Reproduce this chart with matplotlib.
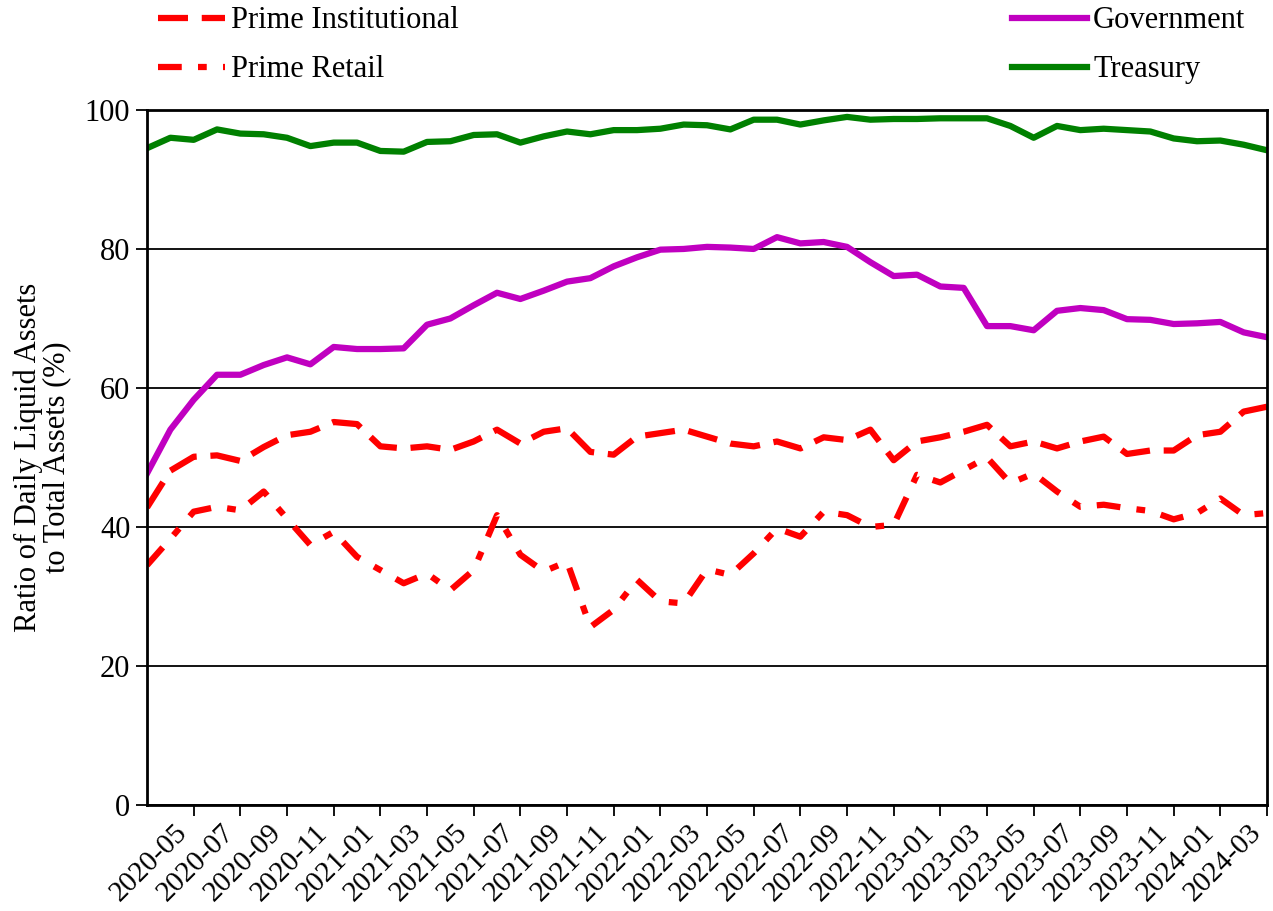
import matplotlib
matplotlib.use("Agg")
import matplotlib.pyplot as plt
import matplotlib.transforms as mtransforms
import numpy as np
import pandas as pd

plt.rcParams['font.family'] = ['Liberation Serif', 'DejaVu Serif']

months = pd.period_range('2020-03', '2024-03', freq='M').strftime('%Y-%m').tolist()

treasury = [94.5, 96.0, 95.7, 97.2, 96.6, 96.5, 96.0, 94.8, 95.3, 95.3,
            94.1, 94.0, 95.4, 95.5, 96.4, 96.5, 95.3, 96.2, 96.9, 96.5,
            97.1, 97.1, 97.3, 97.9, 97.8, 97.2, 98.6, 98.6, 97.9, 98.5,
            99.0, 98.6, 98.7, 98.7, 98.8, 98.8, 98.8, 97.7, 96.0, 97.7,
            97.1, 97.3, 97.1, 96.9, 95.9, 95.5, 95.6, 95.0, 94.2]

government = [47.7, 54.0, 58.3, 61.9, 61.9, 63.3, 64.4, 63.4, 65.9, 65.6,
              65.6, 65.7, 69.1, 70.0, 71.9, 73.7, 72.8, 74.0, 75.3, 75.8,
              77.5, 78.8, 79.9, 80.0, 80.3, 80.2, 80.0, 81.7, 80.8, 81.0,
              80.3, 78.1, 76.1, 76.3, 74.6, 74.4, 68.9, 68.9, 68.3, 71.1,
              71.5, 71.2, 69.9, 69.8, 69.2, 69.3, 69.5, 68.0, 67.3]

prime_inst = [42.8, 48.1, 50.1, 50.3, 49.5, 51.5, 53.2, 53.7, 55.1, 54.8,
              51.6, 51.3, 51.6, 51.1, 52.3, 54.0, 52.0, 53.7, 54.2, 50.8,
              50.4, 53.0, 53.5, 54.0, 53.0, 52.0, 51.6, 52.3, 51.3, 52.9,
              52.5, 54.0, 49.6, 52.3, 52.9, 53.7, 54.7, 51.6, 52.3, 51.3,
              52.3, 53.0, 50.5, 51.0, 51.0, 53.2, 53.7, 56.6, 57.3]

prime_retail = [34.5, 38.3, 42.2, 42.9, 42.4, 45.1, 41.2, 37.4, 39.3, 35.7,
                33.8, 31.9, 33.3, 30.9, 33.8, 41.7, 36.0, 33.6, 35.0, 25.6,
                28.1, 32.4, 29.3, 29.0, 33.9, 33.1, 36.2, 39.8, 38.6, 42.2,
                41.7, 40.0, 40.3, 47.5, 46.4, 48.2, 50.0, 46.3, 47.7, 45.1,
                42.9, 43.2, 42.7, 42.3, 41.1, 42.0, 44.1, 41.7, 42.0]

x = np.arange(len(months))

fig = plt.figure(figsize=(12.73, 9.11), dpi=100)
ax = fig.add_axes([0.1155, 0.1164, 0.8798, 0.7629])

lw = 4.5
l_inst, = ax.plot(x, prime_inst, color='#FF0000', lw=lw, dashes=(4.8, 2.2),
                  dash_capstyle='butt', label='Prime Institutional')
l_ret, = ax.plot(x, prime_retail, color='#FF0000', lw=lw, dashes=(3.8, 2.6, 1.4, 2.6),
                 dash_capstyle='butt', label='Prime Retail')
l_gov, = ax.plot(x, government, color='#C000C0', lw=lw, label='Government')
l_tre, = ax.plot(x, treasury, color='#008000', lw=lw, label='Treasury')

ax.set_xlim(0, len(months) - 1)
ax.set_ylim(0, 100)
ax.set_yticks([0, 20, 40, 60, 80, 100])
ax.yaxis.grid(True, color='black', lw=1.3)
ax.set_axisbelow(True)

tick_idx = x[2::2]
ax.set_xticks(tick_idx)
ax.set_xticklabels([months[i] for i in tick_idx], rotation=45, ha='right', va='center',
                   rotation_mode='anchor', fontsize=21)
ax.tick_params(axis='y', labelsize=22, length=8, width=1.3, direction='out', pad=4)
ax.tick_params(axis='x', length=8, width=1.3, direction='out', pad=2)
for s in ax.spines.values():
    s.set_linewidth(2)

# nudge rotated labels so they end just left of and below their ticks
shift = mtransforms.ScaledTranslation(-0.10, -0.10, fig.dpi_scale_trans)
for lab in ax.get_xticklabels():
    lab.set_transform(lab.get_transform() + shift)

ax.set_ylabel('Ratio of Daily Liquid Assets\nto Total Assets (%)', fontsize=22,
              linespacing=0.95, labelpad=10)

leg_kw = dict(frameon=False, fontsize=22, handletextpad=0.2,
              labelspacing=0.65, borderpad=0, borderaxespad=0, loc='upper left')
leg1 = fig.legend(handles=[l_inst, l_ret], bbox_to_anchor=(0.124, 0.993),
                  handlelength=2.2, **leg_kw)
leg2 = fig.legend(handles=[l_gov, l_tre], bbox_to_anchor=(0.795, 0.993),
                  handlelength=2.45, **leg_kw)

fig.savefig('out.png', dpi=100)
